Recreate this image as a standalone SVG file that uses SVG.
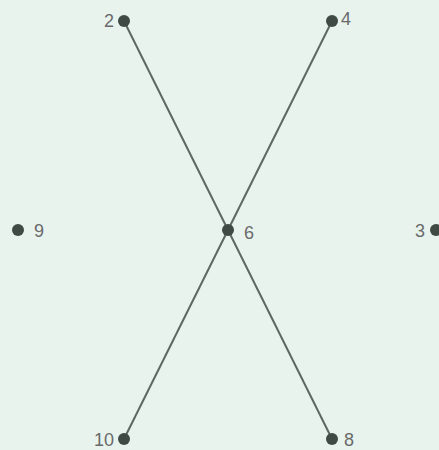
<svg xmlns="http://www.w3.org/2000/svg" width="439" height="450" viewBox="0 0 439 450">
<style>
.dot{fill:#3f4a45}
.lbl{font-family:"Liberation Sans",Arial,sans-serif;font-size:18px;fill:#6a6a6a}
.edge{stroke:#5c6862;stroke-width:2;fill:none}
</style>
<rect width="439" height="450" fill="#e8f3ee"/>
<g id="connectors">
<line class="edge" x1="124" y1="21" x2="332" y2="439"/>
<line class="edge" x1="332" y1="21" x2="124" y2="439"/>
</g>
<g id="n2"><circle class="dot" cx="124" cy="21" r="6"/><text class="lbl" x="114" y="27" text-anchor="end">2</text></g>
<g id="n4"><circle class="dot" cx="332" cy="21" r="6"/><text class="lbl" x="341" y="25">4</text></g>
<g id="n9"><circle class="dot" cx="18" cy="230" r="6"/><text class="lbl" x="34" y="237">9</text></g>
<g id="n6"><circle class="dot" cx="228" cy="230" r="6"/><text class="lbl" x="244" y="239">6</text></g>
<g id="n3"><circle class="dot" cx="436" cy="230" r="6"/><text class="lbl" x="425" y="237" text-anchor="end">3</text></g>
<g id="n10"><circle class="dot" cx="124" cy="439" r="6"/><text class="lbl" x="114" y="446" text-anchor="end">10</text></g>
<g id="n8"><circle class="dot" cx="332" cy="439" r="6"/><text class="lbl" x="344" y="446">8</text></g>
</svg>
